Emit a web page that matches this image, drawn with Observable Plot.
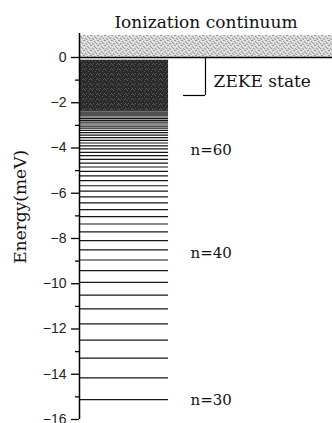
<!DOCTYPE html>
<html>
<head>
<meta charset="utf-8">
<script src="https://cdn.jsdelivr.net/npm/d3@7"></script>
<script src="https://cdn.jsdelivr.net/npm/@observablehq/plot@0.6"></script>
<style>
  html, body { margin: 0; padding: 0; background: #fff; }
  #chart svg { display: block; }
</style>
</head>
<body>
<div id="chart"></div>
<script>
// Rydberg levels n = 30 ... 76 (meV)
const nLevels = [30,31,32,33,34,35,36,37,38,39,40,41,42,43,44,45,46,47,48,49,50,51,52,53,54,55,56,57,58,59,60,61,62,63,64,65,66,67,68,69,70,71,72,73,74,75,76];
const levelEnergies = [-15.12,-14.16,-13.29,-12.49,-11.77,-11.11,-10.50,-9.94,-9.42,-8.95,-8.50,-8.09,-7.71,-7.36,-7.03,-6.72,-6.43,-6.16,-5.91,-5.67,-5.44,-5.23,-5.03,-4.84,-4.67,-4.50,-4.34,-4.19,-4.04,-3.91,-3.78,-3.66,-3.54,-3.43,-3.32,-3.22,-3.12,-3.03,-2.94,-2.86,-2.78,-2.70,-2.63,-2.55,-2.49,-2.42,-2.36];
// merged high-n block (ZEKE region) and continuum
const denseBlock = [{y1: -2.36, y2: -0.12}];
const continuumBand = [{y1: 0, y2: 0.97}];
const yMajorTicks = [0,-2,-4,-6,-8,-10,-12,-14,-16];
const yMinorTicks = [-1,-3,-5,-7,-9,-11,-13,-15];
const levelLabels = ["n=60","n=40","n=30"];
const levelLabelY = [-4.1,-8.65,-15.15];

const levels = nLevels.map((n, i) => ({n, e: levelEnergies[i]}));
const labels = levelLabels.map((t, i) => ({t, y: levelLabelY[i]}));

const serif = "DejaVu Serif";
const barEnd = 0.352;

const chart = Plot.plot({
  width: 332,
  height: 423,
  marginLeft: 79,
  marginRight: 0,
  marginTop: 33,
  marginBottom: 4,
  x: {domain: [0, 1], axis: null},
  y: {domain: [-16, 1.06], axis: null},
  marks: [
    Plot.rect(continuumBand, {x1: 0, x2: 1, y1: "y1", y2: "y2", fill: "#d4d4d4", className: "continuum"}),
    Plot.rect(denseBlock, {x1: 0, x2: barEnd, y1: "y1", y2: "y2", fill: "#2c2c2c", className: "dense"}),
    Plot.ruleY(levels, {y: "e", x1: 0, x2: barEnd, stroke: "#161616", strokeWidth: 1.2}),
    Plot.ruleY([0], {x1: 0, x2: 1, stroke: "#000", strokeWidth: 1.3}),
    Plot.ruleX([0], {y1: -16, y2: 1.06, stroke: "#000", strokeWidth: 1.5}),
    Plot.axisY(yMajorTicks, {tickSize: 8, tickPadding: 5, label: null, fontSize: 14, fontFamily: "Liberation Sans", stroke: "#000", strokeWidth: 1.3, color: "#222"}),
    Plot.axisY(yMinorTicks, {tickSize: 4, tickFormat: () => "", label: null, stroke: "#000", strokeWidth: 1.3}),
    // ZEKE bracket
    Plot.ruleX([0.498], {y1: 0, y2: -1.68, stroke: "#000", strokeWidth: 1.2}),
    Plot.ruleY([-1.68], {x1: 0.411, x2: 0.498, stroke: "#000", strokeWidth: 1.2}),
    Plot.text(["ZEKE state"], {x: 0.53, y: -1.06, textAnchor: "start", fontSize: 17, fontFamily: serif, fill: "#111"}),
    Plot.text(labels, {x: 0.439, y: "y", text: "t", textAnchor: "start", fontSize: 15, fontFamily: serif, fill: "#111"}),
    Plot.text(["Ionization continuum"], {frameAnchor: "top", dy: -11, lineAnchor: "middle", textAnchor: "middle", fontSize: 17, fontFamily: serif, fill: "#111"}),
    Plot.text(["Energy(meV)"], {y: -6.6, frameAnchor: "left", dx: -59, rotate: -90, textAnchor: "middle", lineAnchor: "middle", fontSize: 17, fontFamily: serif, fill: "#111"})
  ]
});

// stipple textures
const svg = d3.select(chart);
const defs = svg.insert("defs", ":first-child");
const p1 = defs.append("pattern").attr("id", "stip").attr("patternUnits", "userSpaceOnUse").attr("width", 7).attr("height", 5);
p1.append("rect").attr("width", 7).attr("height", 5).attr("fill", "#d6d6d6");
[[0,0],[3,1],[5,3],[1,3],[6,0],[2,4],[4,2]].forEach(([x, y]) => p1.append("rect").attr("x", x).attr("y", y).attr("width", 1).attr("height", 1).attr("fill", "#9a9a9a"));
[[2,0],[5,1],[0,2],[4,4]].forEach(([x, y]) => p1.append("rect").attr("x", x).attr("y", y).attr("width", 1).attr("height", 1).attr("fill", "#f4f4f4"));
const p2 = defs.append("pattern").attr("id", "dark").attr("patternUnits", "userSpaceOnUse").attr("width", 7).attr("height", 5);
p2.append("rect").attr("width", 7).attr("height", 5).attr("fill", "#2a2a2a");
[[1,0],[4,1],[6,3],[2,3],[0,4],[5,4]].forEach(([x, y]) => p2.append("rect").attr("x", x).attr("y", y).attr("width", 1).attr("height", 1).attr("fill", "#5a5a5a"));
svg.selectAll(".continuum rect").attr("fill", "url(#stip)");
svg.selectAll(".dense rect").attr("fill", "url(#dark)");

document.getElementById("chart").appendChild(chart);
</script>
</body>
</html>
